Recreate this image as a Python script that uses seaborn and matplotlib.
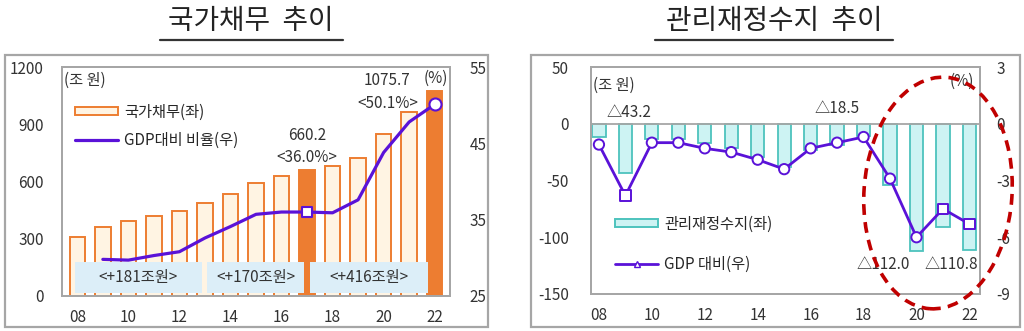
import numpy as np
import pandas as pd
import matplotlib
matplotlib.use("Agg")
import matplotlib.pyplot as plt
import seaborn as sns
from matplotlib.patches import Rectangle, Ellipse, Patch
from matplotlib.lines import Line2D

# ---------------- data ----------------
years = list(range(8, 23))
tick_years = [8, 10, 12, 14, 16, 18, 20, 22]
tick_labels = ["08", "10", "12", "14", "16", "18", "20", "22"]

debt = [309.0, 359.6, 392.2, 420.5, 443.1, 489.8, 533.2, 591.5, 626.9,
        660.2, 680.5, 723.2, 846.6, 965.9, 1075.7]
debt_ratio = [np.nan, 29.8, 29.7, 30.3, 30.8, 32.6, 34.1, 35.7, 36.0,
              36.0, 35.9, 37.6, 43.8, 47.8, 50.1]
highlight_years = [17, 22]
increments = ["<+181조원>", "<+170조원>", "<+416조원>"]

balance = [-11.7, -43.2, -13.0, -13.5, -17.4, -21.1, -29.5, -38.0, -22.7,
           -18.5, -10.6, -54.4, -112.0, -90.6, -110.8]
balance_ratio = [-1.1, -3.8, -1.0, -1.0, -1.3, -1.5, -1.9, -2.4, -1.3,
                 -1.0, -0.7, -2.9, -6.0, -4.5, -5.3]
balance_marker = ["o", "s", "o", "o", "o", "o", "o", "o", "o",
                  "o", "o", "o", "o", "s", "s"]

# ---------------- style ----------------
sns.set_theme(style="white")
plt.rcParams["font.family"] = ["Noto Sans CJK KR", "DejaVu Sans"]
plt.rcParams["axes.unicode_minus"] = False

ORANGE = "#ED7D31"
CREAM = "#FFF4E3"
PURPLE = "#5A12D8"
CYAN_F = "#CDF3F3"
CYAN_E = "#4DC3BD"
BOX = "#DCEEF8"
GRAY = "#A6A6A6"
TXT = "#333333"
FS = 11

W, H = 1024, 331
fig = plt.figure(figsize=(W / 100, H / 100), dpi=100)


def px_rect(x0, y0, x1, y1):
    return [x0 / W, 1 - y1 / H, (x1 - x0) / W, (y1 - y0) / H]


# outer frames
for (x0, y0, x1, y1) in [(5, 55, 488, 327), (531, 55, 1020, 327)]:
    fig.add_artist(Rectangle((x0 / W, 1 - y1 / H), (x1 - x0) / W, (y1 - y0) / H,
                             transform=fig.transFigure, fill=False,
                             ec=GRAY, lw=1.6))

# titles with underline
for text, cx, ux0, ux1 in [("국가채무  추이", 251, 160, 343),
                           ("관리재정수지  추이", 774, 655, 893)]:
    fig.text(cx / W, 1 - 21 / H, text, ha="center", va="center",
             fontsize=20, color="#222222")
    fig.add_artist(Line2D([ux0 / W, ux1 / W], [1 - 40 / H, 1 - 40 / H],
                          transform=fig.transFigure, color="#333333", lw=1.6))


def style_axes(ax):
    for s in ax.spines.values():
        s.set_color(GRAY)
        s.set_linewidth(1.3)
    ax.tick_params(length=0, labelsize=FS, labelcolor=TXT)


# ================= left chart =================
df1 = pd.DataFrame({"year": years, "debt": debt, "ratio": debt_ratio})
ax1 = fig.add_axes(px_rect(62, 67, 450, 296))
sns.barplot(data=df1, x="year", y="debt", native_scale=True, width=0.6,
            color=CREAM, edgecolor=ORANGE, linewidth=1.4, saturation=1,
            ax=ax1, zorder=1)
for p, yr in zip(ax1.patches, years):
    p.set_facecolor(ORANGE if yr in highlight_years else CREAM)

ax1.set_xlim(7.4, 22.6)
ax1.set_ylim(0, 1200)
ax1.set_yticks([0, 300, 600, 900, 1200])
ax1.set_xticks(tick_years)
ax1.set_xticklabels(tick_labels)
ax1.set_xlabel("")
ax1.set_ylabel("")
style_axes(ax1)
ax1.tick_params(axis="y", pad=13)
ax1.tick_params(axis="x", pad=9)
ax1.set_xticks([y + 0.5 for y in years[:-1]], minor=True)
ax1.tick_params(axis="x", which="minor", direction="in", length=3,
                color="#D9A27A", width=1)

# increment boxes
for (x0, x1), lab in zip([(7.92, 12.87), (13.07, 16.9), (17.1, 21.75)], increments):
    ax1.add_patch(Rectangle((x0, 18), x1 - x0, 158, fc=BOX, ec="none", zorder=2))
    ax1.text((x0 + x1) / 2, 97, lab, ha="center", va="center",
             fontsize=FS, color=TXT, zorder=3)

ax1.text(0.005, 0.94, "(조 원)", transform=ax1.transAxes, ha="left",
         va="center", fontsize=FS, color=TXT)
ax1.text(17.0, 841, "660.2", ha="center", va="center", fontsize=FS, color=TXT)
ax1.text(17.0, 727, "<36.0%>", ha="center", va="center", fontsize=FS, color=TXT)
ax1.text(20.15, 1127, "1075.7", ha="center", va="center", fontsize=FS, color=TXT)
ax1.text(20.15, 1008, "<50.1%>", ha="center", va="center", fontsize=FS, color=TXT)
ax1.text(22.05, 1143, "(%)", ha="center", va="center", fontsize=FS, color=TXT)

ax1r = ax1.twinx()
sns.lineplot(data=df1.dropna(), x="year", y="ratio", color=PURPLE, lw=2.3,
             ax=ax1r, zorder=4)
hl = df1[df1["year"].isin(highlight_years)]
sns.scatterplot(x=hl["year"].iloc[:1], y=hl["ratio"].iloc[:1], marker="s", s=60,
                facecolor="white", edgecolor=PURPLE, linewidth=1.5, ax=ax1r,
                zorder=5)
sns.scatterplot(x=hl["year"].iloc[1:], y=hl["ratio"].iloc[1:], marker="o", s=75,
                facecolor="white", edgecolor=PURPLE, linewidth=1.5, ax=ax1r,
                zorder=5)
ax1r.set_ylim(25, 55)
ax1r.set_yticks([25, 35, 45, 55])
ax1r.set_xlim(7.4, 22.6)
ax1r.set_ylabel("")
style_axes(ax1r)
ax1r.tick_params(axis="y", pad=14)

ax1r.legend(handles=[Patch(fc=CREAM, ec=ORANGE, lw=1.4),
                     Line2D([], [], color=PURPLE, lw=2.3)],
            labels=["국가채무(좌)", "GDP대비 비율(우)"],
            loc="upper left", bbox_to_anchor=(0.034, 0.84), frameon=False,
            borderaxespad=0, borderpad=0, handlelength=2.8, handleheight=0.45,
            handletextpad=0.4, labelspacing=0.75, fontsize=FS)

# ================= right chart =================
df2 = pd.DataFrame({"year": years, "balance": balance, "ratio": balance_ratio,
                    "mk": balance_marker})
ax2 = fig.add_axes(px_rect(591, 67, 980, 294))
sns.barplot(data=df2, x="year", y="balance", native_scale=True, width=0.5,
            color=CYAN_F, edgecolor=CYAN_E, linewidth=1.3, saturation=1, ax=ax2)
ax2.axhline(0, color=GRAY, lw=1.3, zorder=3)
ax2.set_xlim(7.7, 22.4)
ax2.set_ylim(-150, 50)
ax2.set_yticks([-150, -100, -50, 0, 50])
ax2.set_xticks(tick_years)
ax2.set_xticklabels(tick_labels)
ax2.set_xlabel("")
ax2.set_ylabel("")
style_axes(ax2)
ax2.tick_params(axis="y", pad=16)
ax2.tick_params(axis="x", pad=9)

ax2.text(0.005, 0.92, "(조 원)", transform=ax2.transAxes, ha="left",
         va="center", fontsize=FS, color=TXT)
ax2.text(9.13, 10, "△43.2", ha="center", va="center", fontsize=FS, color=TXT)
ax2.text(17.0, 13.5, "△18.5", ha="center", va="center", fontsize=FS, color=TXT)
ax2.text(18.75, -124, "△112.0", ha="center", va="center", fontsize=FS, color=TXT)
ax2.text(21.3, -124, "△110.8", ha="center", va="center", fontsize=FS, color=TXT)
ax2.text(21.7, 37, "(%)", ha="center", va="center", fontsize=FS, color=TXT)

ax2r = ax2.twinx()
sns.lineplot(data=df2, x="year", y="ratio", color=PURPLE, lw=2.0, ax=ax2r,
             zorder=4)
sns.scatterplot(data=df2, x="year", y="ratio", style="mk",
                markers={"o": "o", "s": "s"}, s=55, facecolor="white",
                edgecolor=PURPLE, linewidth=1.4, ax=ax2r, legend=False, zorder=5)
ax2r.set_ylim(-9, 3)
ax2r.set_yticks([-9, -6, -3, 0, 3])
ax2r.set_xlim(7.7, 22.4)
ax2r.set_ylabel("")
style_axes(ax2r)
ax2r.tick_params(axis="y", pad=12)

ax2r.legend(handles=[Patch(fc=CYAN_F, ec=CYAN_E, lw=1.4),
                     Line2D([], [], color=PURPLE, lw=2.0, marker="^", ms=5,
                            mfc="white", mec=PURPLE)],
            labels=["관리재정수지(좌)", "GDP 대비(우)"],
            loc="upper left", bbox_to_anchor=(0.062, 0.345), frameon=False,
            borderaxespad=0, borderpad=0, handlelength=2.8, handleheight=0.45,
            handletextpad=0.4, labelspacing=1.5, fontsize=FS)

# red dashed highlight ellipse
fig.add_artist(Ellipse((938 / 100, (H - 193) / 100), 1.48, 2.32, angle=-4,
                       transform=fig.dpi_scale_trans, fill=False,
                       ec="#C00000", lw=2.6, ls=(0, (3, 2)), clip_on=False,
                       zorder=10))

fig.savefig("out.png", dpi=100)
